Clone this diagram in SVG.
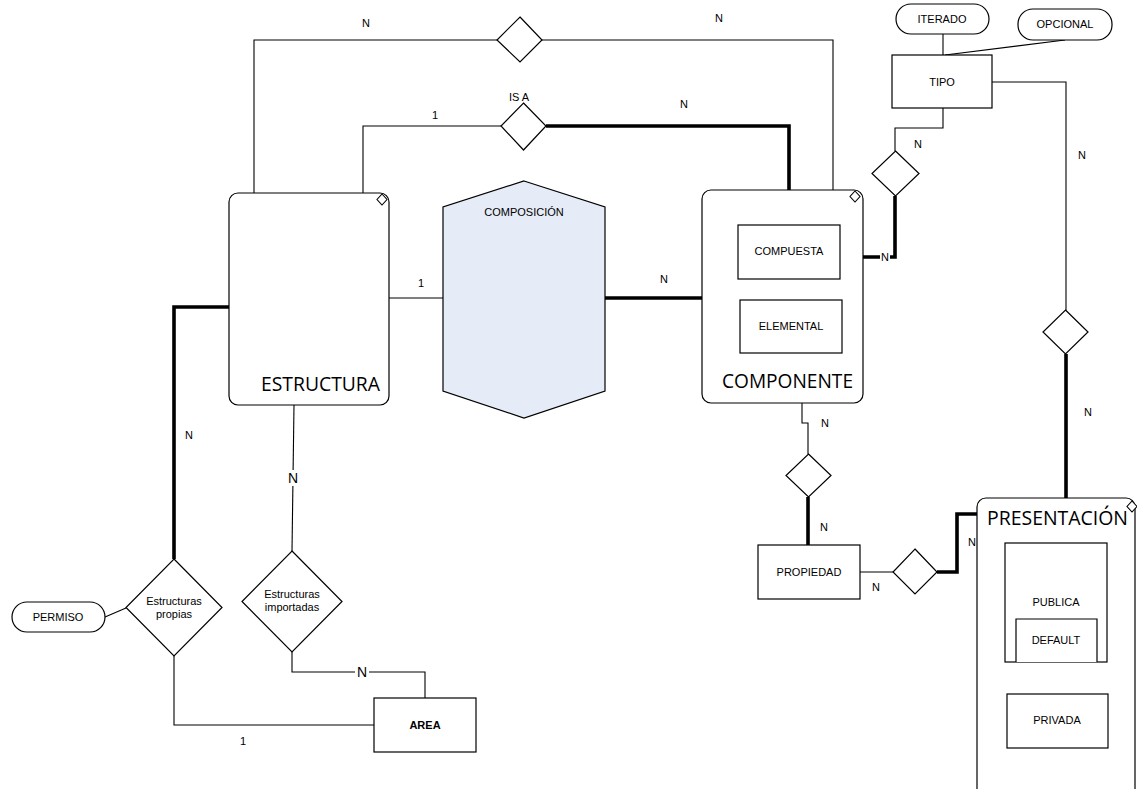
<svg xmlns="http://www.w3.org/2000/svg" width="1137" height="789" viewBox="0 0 1137 789">
  <style>
    .shape { fill: #ffffff; stroke: #000000; stroke-width: 1.2; }
    .hex { fill: #e6ecf7; stroke: #000000; stroke-width: 1.2; }
    .thin { fill: none; stroke: #000000; stroke-width: 1.1; }
    .thick { fill: none; stroke: #000000; stroke-width: 3.6; }
    .lbl { font-family: "Liberation Sans", Arial, sans-serif; font-size: 11px; fill: #000; text-anchor: middle; }
    .card { font-family: "Liberation Sans", Arial, sans-serif; font-size: 11px; fill: #000; text-anchor: middle; }
    .big { font-family: "Open Sans", "Liberation Sans", sans-serif; font-size: 20px; fill: #000; }
    .mark { fill: #ffffff; stroke: #000000; stroke-width: 1.1; }
  </style>
  <rect width="1137" height="789" fill="#ffffff"/>

  <!-- connectors -->
  <g id="connectors">
    <!-- ESTRUCTURA to COMPONENTE via top relation -->
    <polyline class="thin" points="254,193 254,40 497,40"/>
    <polyline class="thin" points="542,40 833,40 833,190"/>
    <!-- IS A -->
    <polyline class="thin" points="363,193 363,126 501,126"/>
    <polyline class="thick" points="546,126 789,126 789,225"/>
    <!-- COMPOSICION -->
    <line class="thin" x1="389" y1="298" x2="443" y2="298"/>
    <line class="thick" x1="605" y1="298" x2="702" y2="298"/>
    <!-- TIPO attributes -->
    <line class="thin" x1="943" y1="34" x2="943" y2="55"/>
    <line class="thin" x1="1065" y1="40" x2="945" y2="55"/>
    <!-- TIPO to COMPONENTE -->
    <polyline class="thin" points="943,108 943,128 895,128 895,151"/>
    <polyline class="thick" points="895,196 895,257 863,257"/>
    <!-- TIPO to PRESENTACION -->
    <polyline class="thin" points="992,82 1066,82 1066,310"/>
    <line class="thick" x1="1066" y1="354" x2="1066" y2="498"/>
    <!-- COMPONENTE to PROPIEDAD -->
    <polyline class="thin" points="802,403 802,423 808,423 808,454"/>
    <line class="thick" x1="808" y1="497" x2="808" y2="545"/>
    <!-- PROPIEDAD to PRESENTACION -->
    <line class="thin" x1="860" y1="572" x2="893" y2="572"/>
    <polyline class="thick" points="937,572 957,572 957,514 977,514"/>
    <!-- ESTRUCTURA to Estructuras propias -->
    <polyline class="thick" points="229,307 174,307 174,559"/>
    <polyline class="thin" points="174,656 174,725 374,725"/>
    <line class="thin" x1="105" y1="617" x2="126" y2="608"/>
    <!-- ESTRUCTURA to Estructuras importadas -->
    <line class="thin" x1="294" y1="405" x2="292" y2="551"/>
    <polyline class="thin" points="292,652 292,672 425,672 425,698"/>

    <!-- cardinality labels -->
    <text class="card" x="366" y="27">N</text>
    <text class="card" x="719" y="22">N</text>
    <text class="card" x="684" y="108">N</text>
    <text class="card" x="435" y="119">1</text>
    <text class="card" x="421" y="287">1</text>
    <text class="card" x="664" y="283">N</text>
    <text class="card" x="918" y="148">N</text>
    <rect x="880" y="251" width="10" height="11" fill="#fff"/>
    <text class="card" x="885" y="261">N</text>
    <text class="card" x="1082" y="159">N</text>
    <text class="card" x="1088" y="416">N</text>
    <text class="card" x="825" y="427">N</text>
    <text class="card" x="824" y="531">N</text>
    <text class="card" x="876" y="591">N</text>
    <text class="card" x="972" y="546">N</text>
    <text class="card" x="189" y="439">N</text>
    <rect x="286" y="470" width="13" height="16" fill="#fff"/>
    <text class="card" x="293" y="483" style="font-size:14px">N</text>
    <rect x="355" y="665" width="14" height="15" fill="#fff"/>
    <text class="card" x="362" y="677" style="font-size:14px">N</text>
    <text class="card" x="243" y="745">1</text>
  </g>

  <!-- relations -->
  <g id="rel-top">
    <polygon class="shape" points="520,17 542,40 520,62 497,40"/>
  </g>
  <g id="rel-isa">
    <polygon class="shape" points="523.5,103 546,126 523.5,150 501,126"/>
    <text class="lbl" x="519" y="101">IS A</text>
  </g>
  <g id="rel-tipo-componente">
    <polygon class="shape" points="895.5,151 919,173.5 895.5,196 872,173.5"/>
  </g>
  <g id="rel-tipo-presentacion">
    <polygon class="shape" points="1065.5,310 1088,332 1065.5,354 1043,332"/>
  </g>
  <g id="rel-componente-propiedad">
    <polygon class="shape" points="808.5,454 831,475.5 808.5,497 786,475.5"/>
  </g>
  <g id="rel-propiedad-presentacion">
    <polygon class="shape" points="915,549 937,572 915,594 893,572"/>
  </g>
  <g id="rel-estructuras-propias">
    <polygon class="shape" points="174,559 222,607.5 174,656 126,607.5"/>
    <text class="lbl" x="174" y="605">Estructuras</text>
    <text class="lbl" x="174" y="618">propias</text>
  </g>
  <g id="rel-estructuras-importadas">
    <polygon class="shape" points="292,551 342,601.5 292,652 242,601.5"/>
    <text class="lbl" x="292" y="598">Estructuras</text>
    <text class="lbl" x="292" y="611">importadas</text>
  </g>

  <!-- COMPOSICION -->
  <g id="composicion">
    <polygon class="hex" points="524,181 605,207 605,391 524,418 443,391 443,207"/>
    <text class="lbl" x="524" y="216">COMPOSICIÓN</text>
  </g>

  <!-- ESTRUCTURA -->
  <g id="estructura">
    <rect class="shape" x="229" y="193" width="160" height="212" rx="9"/>
    <polygon class="mark" points="382,194 387,199.5 382,205 377,199.5"/>
    <text class="big" x="261" y="391" textLength="119" lengthAdjust="spacingAndGlyphs">ESTRUCTURA</text>
  </g>

  <!-- COMPONENTE -->
  <g id="componente">
    <rect class="shape" x="702" y="190" width="161" height="213" rx="9"/>
    <polygon class="mark" points="855,191 860,196.5 855,202 850,196.5"/>
    <text class="big" x="722" y="388" textLength="131" lengthAdjust="spacingAndGlyphs">COMPONENTE</text>
  </g>
  <g id="compuesta">
    <rect class="shape" x="738" y="225" width="102" height="54"/>
    <text class="lbl" x="789" y="255">COMPUESTA</text>
  </g>
  <g id="elemental">
    <rect class="shape" x="740" y="300" width="102" height="53"/>
    <text class="lbl" x="791" y="330">ELEMENTAL</text>
  </g>

  <!-- TIPO and attributes -->
  <g id="tipo">
    <rect class="shape" x="892" y="55" width="100" height="53"/>
    <text class="lbl" x="942" y="86">TIPO</text>
  </g>
  <g id="iterado">
    <rect class="shape" x="896" y="4" width="93" height="30" rx="15"/>
    <text class="lbl" x="942" y="23">ITERADO</text>
  </g>
  <g id="opcional">
    <rect class="shape" x="1018" y="9" width="94" height="31" rx="15"/>
    <text class="lbl" x="1065" y="28">OPCIONAL</text>
  </g>

  <!-- PROPIEDAD -->
  <g id="propiedad">
    <rect class="shape" x="758" y="545" width="102" height="54"/>
    <text class="lbl" x="809" y="576">PROPIEDAD</text>
  </g>

  <!-- PRESENTACION -->
  <g id="presentacion">
    <rect class="shape" x="977" y="498" width="158" height="310" rx="9"/>
    <polygon class="mark" points="1132,501 1137,506.5 1132,512 1127,506.5"/>
    <text class="big" x="987" y="525" textLength="141" lengthAdjust="spacingAndGlyphs">PRESENTACIÓN</text>
  </g>
  <g id="publica">
    <rect class="shape" x="1005" y="543" width="102" height="119"/>
    <text class="lbl" x="1056" y="606">PUBLICA</text>
  </g>
  <g id="default">
    <polyline class="shape" points="1016,662 1016,619 1097,619 1097,662"/>
    <text class="lbl" x="1056" y="644">DEFAULT</text>
  </g>
  <g id="privada">
    <rect class="shape" x="1007" y="694" width="101" height="54"/>
    <text class="lbl" x="1057" y="724">PRIVADA</text>
  </g>

  <!-- PERMISO -->
  <g id="permiso">
    <rect class="shape" x="12" y="602" width="93" height="30" rx="15"/>
    <text class="lbl" x="58" y="621">PERMISO</text>
  </g>

  <!-- AREA -->
  <g id="area">
    <rect class="shape" x="374" y="698" width="102" height="54"/>
    <text class="lbl" x="425" y="729" style="font-weight:bold">AREA</text>
  </g>
</svg>
